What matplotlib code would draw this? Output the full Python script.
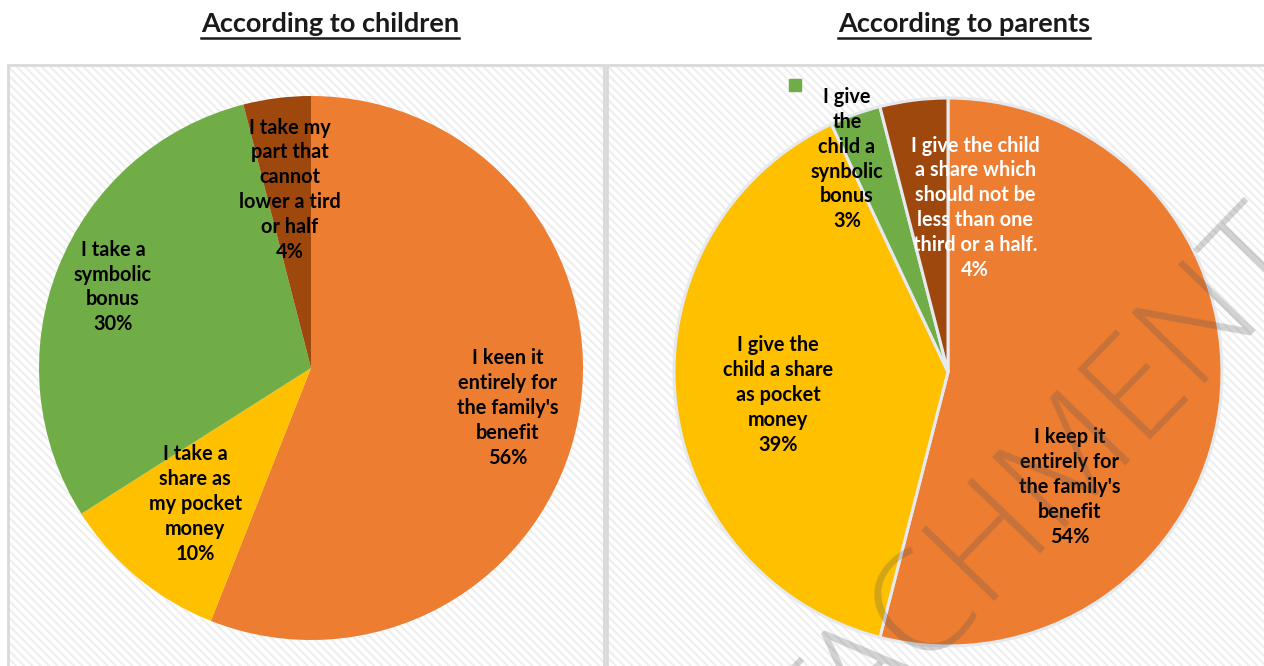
import matplotlib
matplotlib.use("Agg")
import matplotlib.pyplot as plt
from matplotlib.patches import Rectangle
from matplotlib.lines import Line2D

W, H, DPI = 1264, 666, 100

# ---- data -------------------------------------------------------------
titles = ["According to children", "According to parents"]

children_labels = [
    "I keen it\nentirely for\nthe family's\nbenefit",
    "I take a\nshare as\nmy pocket\nmoney",
    "I take a\nsymbolic\nbonus",
    "I take my\npart that\ncannot\nlower a tird\nor half",
]
children_values = [56, 10, 30, 4]

parents_labels = [
    "I keep it\nentirely for\nthe family's\nbenefit",
    "I give the\nchild a share\nas pocket\nmoney",
    "I give\nthe\nchild a\nsynbolic\nbonus",
    "I give the child\na share which\nshould not be\nless than one\nthird or a half.",
]
parents_values = [54, 39, 3, 4]

slice_colors = ["#ED7D31", "#FFC000", "#70AD47", "#9E480E"]
watermark = "ATTACHMENT"

# ---- layout helpers (pixel based) --------------------------------------
FONT = ["Lato", "DejaVu Sans"]
plt.rcParams["font.family"] = FONT
plt.rcParams["hatch.linewidth"] = 1.5


def px_rect(x, y, w, h):
    return [x / W, 1 - (y + h) / H, w / W, h / H]


fig = plt.figure(figsize=(W / DPI, H / DPI), dpi=DPI)
fig.patch.set_facecolor("white")

# panel backgrounds: faint diagonal stripes with a light grey frame
for (px, pw) in [(8, 596), (607, 680)]:
    x0, y0, w0, h0 = px_rect(px, 65, pw, 640)
    fig.add_artist(Rectangle((x0, y0), w0, h0, transform=fig.transFigure,
                             facecolor="white", edgecolor="#eeeeee",
                             hatch="\\\\\\\\", linewidth=0, zorder=0))
    fig.add_artist(Rectangle((x0, y0), w0, h0, transform=fig.transFigure,
                             facecolor="none", edgecolor="#d9d9d9",
                             linewidth=2, zorder=0.5))


def draw_pie(center, radius, values, labels, label_pos, text_colors, edge):
    cx, cy = center
    ax = fig.add_axes(px_rect(cx - radius, cy - radius, 2 * radius, 2 * radius))
    ax.set_zorder(1)
    wedgeprops = {"linewidth": 2.2, "edgecolor": edge} if edge else {"linewidth": 0}
    ax.pie(values, colors=slice_colors, startangle=90, counterclock=False,
           radius=1, wedgeprops=wedgeprops)
    ax.set_xlim(-1, 1)
    ax.set_ylim(-1, 1)
    ax.set_aspect("equal")
    ax.axis("off")
    for lab, val, (tx, ty), tc in zip(labels, values, label_pos, text_colors):
        ax.text(tx, ty, f"{lab}\n{val}%", ha="center", va="center",
                fontsize=14.3, fontweight="bold", color=tc, linespacing=1.3,
                clip_on=False)
    return ax


ax_left = draw_pie((311, 368), 272, children_values, children_labels,
                   [(0.724, -0.147), (-0.426, -0.50), (-0.728, 0.298), (-0.077, 0.656)],
                   ["black", "black", "black", "black"], None)

ax_right = draw_pie((948, 372), 274, parents_values, parents_labels,
                    [(0.445, -0.420), (-0.620, -0.084), (-0.369, 0.777), (0.099, 0.600)],
                    ["black", "black", "black", "white"], "#e6eaef")

# stray legend key above the right pie
ax_right.plot([-0.558], [1.047], marker="s", markersize=8, color=slice_colors[2],
              clip_on=False, linestyle="none")

# underlined bold titles
fig.canvas.draw()
renderer = fig.canvas.get_renderer()
for title, xc in zip(titles, [330, 964]):
    t = fig.text(xc / W, 1 - 32 / H, title, ha="center", va="baseline",
                 fontsize=19.5, fontweight="bold", color="#1a1a1a")
    bb = t.get_window_extent(renderer)
    yl = 1 - 37.5 / H
    fig.add_artist(Line2D([bb.x0 / W, bb.x1 / W], [yl, yl], transform=fig.transFigure,
                          color="#1a1a1a", linewidth=1.8))

# diagonal watermark across the right panel
fig.text(990 / W, 1 - 552 / H, watermark, ha="center", va="center",
         rotation=46, rotation_mode="anchor", fontsize=102,
         family=["Open Sans", "DejaVu Sans"], fontweight=300,
         color="#555555", alpha=0.26, zorder=5)

fig.savefig("out.png", dpi=DPI)
